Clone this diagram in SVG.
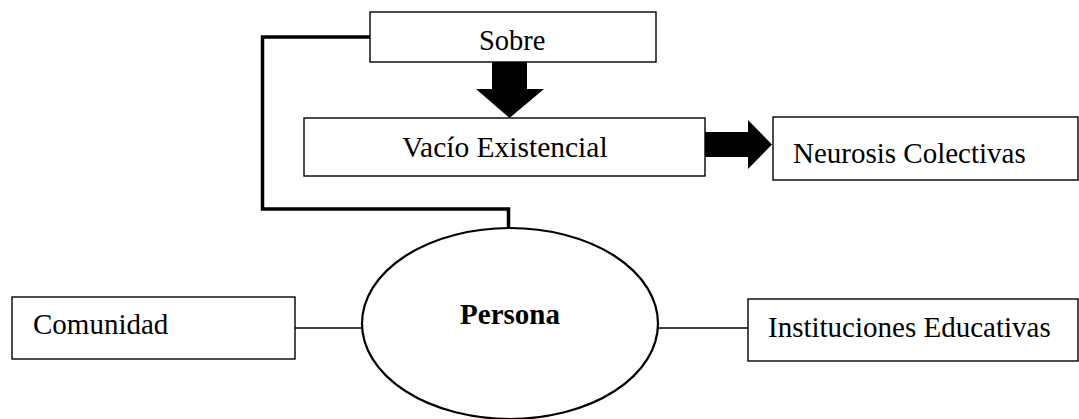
<svg xmlns="http://www.w3.org/2000/svg" width="1079" height="419" viewBox="0 0 1079 419">
<style>
.box{fill:#fff;stroke:#000;stroke-width:1.4}
.t{font-family:"Liberation Serif","Times New Roman",serif;font-size:29px;fill:#000}
.b{font-weight:bold;text-anchor:middle}
.thin{stroke:#000;stroke-width:1.4;fill:none}
.thick{stroke:#000;stroke-width:3.5;fill:none}
.blk{fill:#000}
</style>
<rect width="1079" height="419" fill="#fff"/>
<g id="connectors">
<polyline class="thick" points="370,37 262.5,37 262.5,209 508.5,209 508.5,229"/>
<line class="thin" x1="295" y1="328" x2="363" y2="328"/>
<line class="thin" x1="657" y1="328" x2="748" y2="328"/>
<polygon class="blk" points="492,62 527,62 527,89 544,89 509.5,118 476,89 492,89"/>
<polygon class="blk" points="705,132 748,132 748,120 772,144.5 748,169 748,157 705,157"/>
</g>
<g id="sobre">
<rect class="box" x="370" y="12" width="286" height="50"/>
<text class="t" x="479" y="50" style="font-size:28.5px">Sobre</text>
</g>
<g id="vacio">
<rect class="box" x="304" y="118" width="401" height="58"/>
<text class="t" x="402" y="157" style="font-size:29.5px">Vacío Existencial</text>
</g>
<g id="neurosis">
<rect class="box" x="773" y="117" width="305" height="63"/>
<text class="t" x="793" y="163">Neurosis Colectivas</text>
</g>
<g id="persona">
<ellipse class="box" cx="510" cy="323.5" rx="148" ry="95.5" style="stroke-width:2.2"/>
<text class="t b" x="510" y="324">Persona</text>
</g>
<g id="comunidad">
<rect class="box" x="12" y="297" width="283" height="62"/>
<text class="t" x="33" y="334">Comunidad</text>
</g>
<g id="instituciones">
<rect class="box" x="748" y="299" width="330" height="62"/>
<text class="t" x="768" y="337">Instituciones Educativas</text>
</g>
</svg>
